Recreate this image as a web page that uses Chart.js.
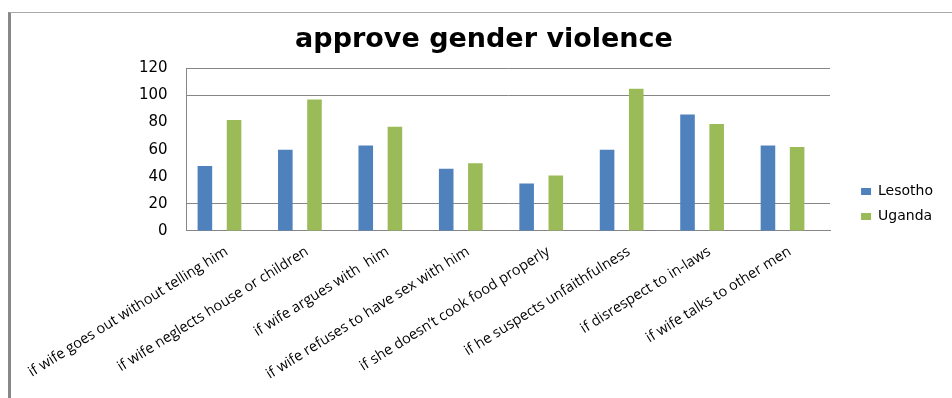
<!DOCTYPE html>
<html>
<head>
<meta charset="utf-8">
<script src="https://cdn.jsdelivr.net/npm/chart.js@4/dist/chart.umd.min.js"></script>
<style>
  html, body { margin: 0; padding: 0; background: #fff; }
  body { width: 952px; height: 398px; overflow: hidden; position: relative; }
  .frame {
    position: absolute; left: 8px; top: 12px; width: 944px; height: 386px;
    border-top: 1px solid #aaa; border-left: 3px solid #888; box-sizing: border-box;
  }
  .chart-box { position: absolute; left: 0; top: 0; width: 941px; height: 385px; }
</style>
</head>
<body>
<div class="frame">
  <div class="chart-box"><canvas id="chart"></canvas></div>
</div>
<script>
// approve gender violence — Lesotho vs Uganda
const categories = [
  'if wife goes out without telling him',
  'if wife neglects house or children',
  'if wife argues with  him',
  'if wife refuses to have sex with him',
  'if she doesn\u2019t cook food properly',
  'if he suspects unfaithfulness',
  'if disrespect to in-laws',
  'if wife talks to other men'
];
const lesotho = [48, 60, 63, 46, 35, 60, 86, 63];
const emptySeries = [null, null, null, null, null, null, null, null];
const uganda = [82, 97, 77, 50, 41, 105, 79, 62];
const extraSeries = [null, null, null, null, null, 0.6, null, null];
const yTicks = [0, 20, 40, 60, 80, 100, 120];

const COLORS = ['#4F81BD', '#C0504D', '#9BBB59', '#8064A2'];
const AXIS = '#868686';
const LEGEND_GAP = 20; // extra room between plot and legend

// widen the legend box and push its items right
const legendGapPlugin = {
  id: 'legendGap',
  afterInit(chart) {
    const lg = chart.legend;
    const origFit = lg.fit;
    lg.fit = function() {
      origFit.call(this);
      this.width += LEGEND_GAP;
    };
  },
  afterLayout(chart) {
    chart.legend.left += LEGEND_GAP;
  }
};

new Chart(document.getElementById('chart').getContext('2d'), {
  type: 'bar',
  data: {
    labels: categories,
    datasets: [
      { label: 'Lesotho', data: lesotho, backgroundColor: COLORS[0] },
      { label: '', data: emptySeries, backgroundColor: COLORS[1] },
      { label: 'Uganda', data: uganda, backgroundColor: COLORS[2] },
      { label: '', data: extraSeries, backgroundColor: COLORS[3] }
    ]
  },
  plugins: [legendGapPlugin],
  options: {
    responsive: true,
    maintainAspectRatio: false,
    animation: false,
    datasets: { bar: { categoryPercentage: 0.725, barPercentage: 1.0 } },
    layout: { padding: { left: 14, right: 9, top: 0, bottom: 3 } },
    plugins: {
      title: {
        display: true,
        text: 'approve gender violence',
        color: '#000',
        font: { family: "'DejaVu Sans'", size: 27, weight: 'bold' },
        padding: { top: 11, bottom: 12 }
      },
      legend: {
        position: 'right',
        labels: {
          filter: function(item) { return item.text !== ''; },
          color: '#000',
          font: { family: "'DejaVu Sans'", size: 14 },
          boxWidth: 10,
          boxHeight: 7,
          padding: 11
        }
      },
      tooltip: { enabled: false }
    },
    scales: {
      x: {
        grid: { display: false, drawTicks: false },
        border: { display: true, color: AXIS, width: 1 },
        ticks: {
          autoSkip: false,
          minRotation: 32,
          maxRotation: 32,
          padding: 12,
          color: '#000',
          font: { family: "'Open Sans'", size: 14.5 }
        }
      },
      y: {
        min: 0,
        max: 120,
        afterBuildTicks: function(scale) {
          scale.ticks = yTicks.map(function(v) { return { value: v }; });
        },
        afterFit: function(scale) { scale.width += 28; },
        grid: {
          drawTicks: false,
          color: function(ctx) {
            const v = ctx.tick ? ctx.tick.value : 0;
            return (v === 40 || v === 60 || v === 80) ? 'rgba(0,0,0,0)' : AXIS;
          }
        },
        border: { display: true, color: AXIS, width: 1 },
        ticks: {
          padding: 19,
          color: '#000',
          font: { family: "'DejaVu Sans'", size: 15 }
        }
      }
    }
  }
});
</script>
</body>
</html>
